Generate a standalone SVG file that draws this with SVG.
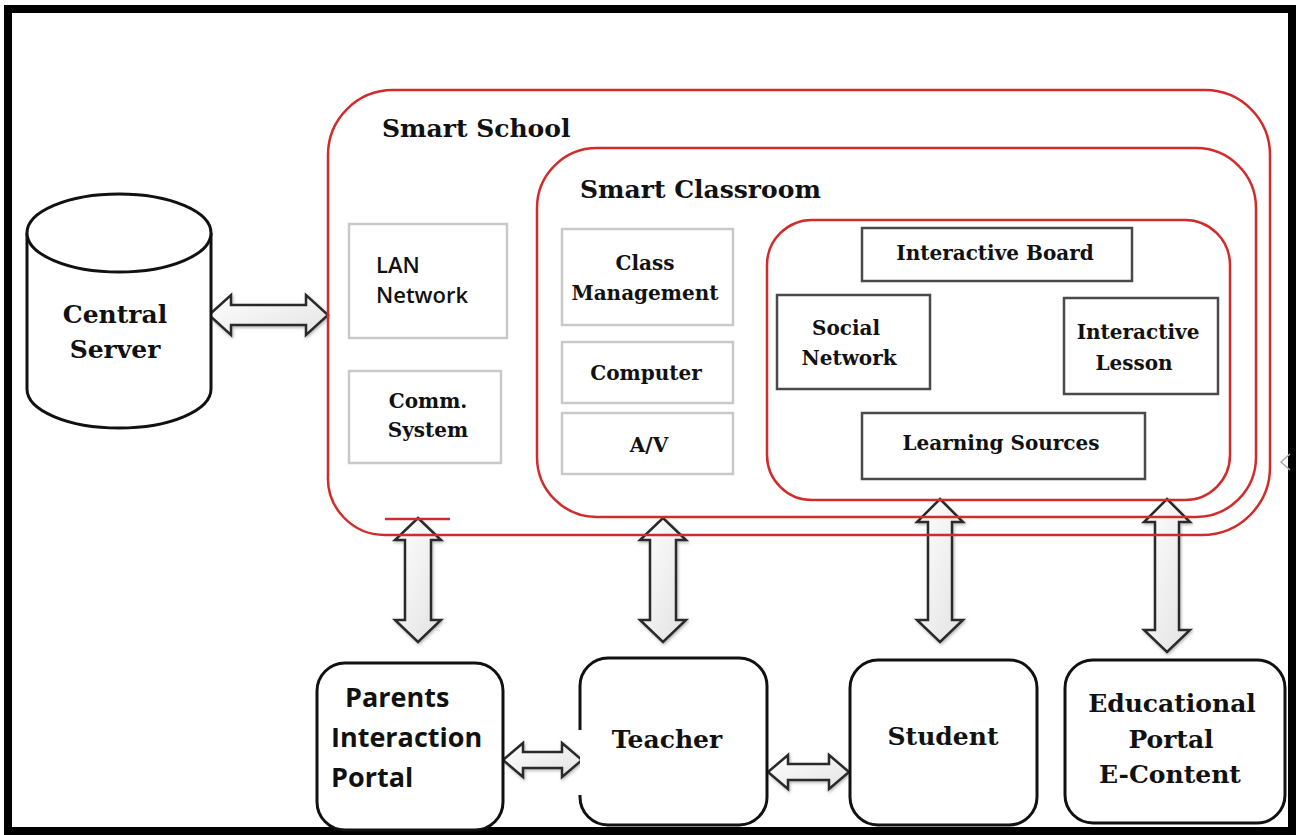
<svg xmlns="http://www.w3.org/2000/svg" width="1298" height="835" viewBox="0 0 1298 835">
<defs>
<linearGradient id="ag" x1="0" y1="0" x2="1" y2="1">
<stop offset="0" stop-color="#ffffff"/>
<stop offset="1" stop-color="#e2e2e2"/>
</linearGradient>
<filter id="sh" x="-20%" y="-20%" width="140%" height="140%">
<feDropShadow dx="1" dy="1.5" stdDeviation="1.5" flood-color="#777" flood-opacity="0.55"/>
</filter>
<style>
.red{fill:none;stroke:#d22b2b;stroke-width:2.5}
.lbox{fill:#fff;stroke:#c9c9c9;stroke-width:2.5}
.dbox{fill:#fff;stroke:#4a4a4a;stroke-width:2.5}
.bbox{fill:#fff;stroke:#111;stroke-width:3}
.arr{fill:url(#ag);stroke:#2a2a2a;stroke-width:2.5;stroke-linejoin:miter;filter:url(#sh)}
.ser{font-family:"DejaVu Serif","Liberation Serif",serif;font-weight:bold;fill:#111}
.t25{font-size:25px}
.t20{font-size:20px}
.san{font-family:"Open Sans","Liberation Sans",sans-serif;fill:#111}
.mid{text-anchor:middle}
</style>
</defs>
<rect x="0" y="0" width="1298" height="835" fill="#fff"/>
<rect id="frame" x="8" y="9" width="1284" height="822" fill="none" stroke="#000" stroke-width="8"/>

<g id="connectors">
<polygon class="arr" points="209,315 231,295 231,305 306,305 306,295 328,315 306,335 306,325 231,325 231,335"/>
<polygon class="arr" points="418,518 441,540 431,540 431,620 441,620 418,642 395,620 405,620 405,540 395,540"/>
<polygon class="arr" points="663,518 686,540 676,540 676,620 686,620 663,642 640,620 650,620 650,540 640,540"/>
<polygon class="arr" points="940,499 963,522 952,522 952,620 963,620 940,642 917,620 928,620 928,522 917,522"/>
<polygon class="arr" points="1167,499 1190,522 1179,522 1179,630 1190,630 1167,652 1144,630 1155,630 1155,522 1144,522"/>
<polygon class="arr" points="503,760 523,743 523,752 562,752 562,743 582,760 562,777 562,768 523,768 523,777"/>
<polygon class="arr" points="768,772 788,755 788,764 829,764 829,755 849,772 829,789 829,780 788,780 788,789"/>
</g>

<g id="central-server">
<path d="M27 233 L27 389 A92 39 0 0 0 211 389 L211 233" fill="#fff" stroke="#111" stroke-width="3"/>
<ellipse cx="119" cy="233" rx="92" ry="39" fill="#fff" stroke="#111" stroke-width="3"/>
<text class="ser t25 mid" x="115" y="323">Central</text>
<text class="ser t25 mid" x="115" y="358">Server</text>
</g>

<g id="smart-school">
<path class="red" d="M328 475 L328 155 A65 65 0 0 1 393 90 L1205 90 A65 65 0 0 1 1270 155 L1270 467 A68 68 0 0 1 1202 535 L385 535 A57 57 0 0 1 328 475"/>
<line x1="385" y1="519" x2="450" y2="519" stroke="#d22b2b" stroke-width="2.5"/>
<text class="ser t25" x="382" y="137">Smart School</text>
</g>

<g id="lan-network">
<rect class="lbox" x="349" y="224" width="158" height="114"/>
<text class="san" font-size="22" font-weight="600" x="376" y="273">LAN</text>
<text class="san" font-size="22" font-weight="600" x="376" y="303">Network</text>
</g>

<g id="comm-system">
<rect class="lbox" x="349" y="371" width="152" height="92"/>
<text class="ser t20 mid" x="428" y="408">Comm.</text>
<text class="ser t20 mid" x="428" y="437">System</text>
</g>

<g id="smart-classroom">
<rect class="red" x="537" y="148" width="719" height="369" rx="60" ry="60"/>
<text class="ser t25" x="580" y="198">Smart Classroom</text>
</g>

<g id="class-management">
<rect class="lbox" x="562" y="229" width="171" height="96"/>
<text class="ser t20 mid" x="645" y="270">Class</text>
<text class="ser t20 mid" x="645" y="300">Management</text>
</g>

<g id="computer">
<rect class="lbox" x="562" y="342" width="171" height="61"/>
<text class="ser t20 mid" x="646" y="380">Computer</text>
</g>

<g id="av">
<rect class="lbox" x="562" y="413" width="171" height="61"/>
<text class="ser t20 mid" x="649" y="452">A/V</text>
</g>

<g id="classroom-core">
<rect class="red" x="767" y="220" width="463" height="280" rx="45" ry="45"/>
</g>

<g id="interactive-board">
<rect class="dbox" x="862" y="228" width="270" height="53"/>
<text class="ser t20 mid" x="995" y="260">Interactive Board</text>
</g>

<g id="social-network">
<rect class="dbox" x="777" y="295" width="153" height="94"/>
<text class="ser t20 mid" x="846" y="335">Social</text>
<text class="ser t20 mid" x="849" y="365">Network</text>
</g>

<g id="interactive-lesson">
<rect class="dbox" x="1064" y="298" width="154" height="96"/>
<text class="ser t20 mid" x="1138" y="339">Interactive</text>
<text class="ser t20 mid" x="1134" y="370">Lesson</text>
</g>

<g id="learning-sources">
<rect class="dbox" x="862" y="413" width="283" height="66"/>
<text class="ser t20 mid" x="1001" y="450">Learning Sources</text>
</g>

<g id="parents-portal">
<rect class="bbox" x="317" y="663" width="186" height="167" rx="28" ry="28"/>
<text class="san" font-size="27" font-weight="bold" x="345" y="707">Parents</text>
<text class="san" font-size="27" font-weight="bold" x="331" y="747">Interaction</text>
<text class="san" font-size="27" font-weight="bold" x="331" y="787">Portal</text>
</g>

<g id="teacher">
<path class="bbox" d="M580 730 L580 686 A28 28 0 0 1 608 658 L739 658 A28 28 0 0 1 767 686 L767 797 A28 28 0 0 1 739 825 L608 825 A28 28 0 0 1 580 797 L580 795"/>
<text class="ser t25 mid" x="667" y="748">Teacher</text>
</g>

<g id="student">
<rect class="bbox" x="850" y="660" width="187" height="165" rx="28" ry="28"/>
<text class="ser t25 mid" x="943" y="745">Student</text>
</g>

<g id="educational-portal">
<rect class="bbox" x="1065" y="660" width="220" height="163" rx="28" ry="28"/>
<text class="ser t25 mid" x="1172" y="712">Educational</text>
<text class="ser t25 mid" x="1171" y="748">Portal</text>
<text class="ser t25 mid" x="1170" y="783">E-Content</text>
</g>

<polyline points="1290,454 1281,462 1290,470" fill="none" stroke="#aaa" stroke-width="1.5"/>
</svg>
